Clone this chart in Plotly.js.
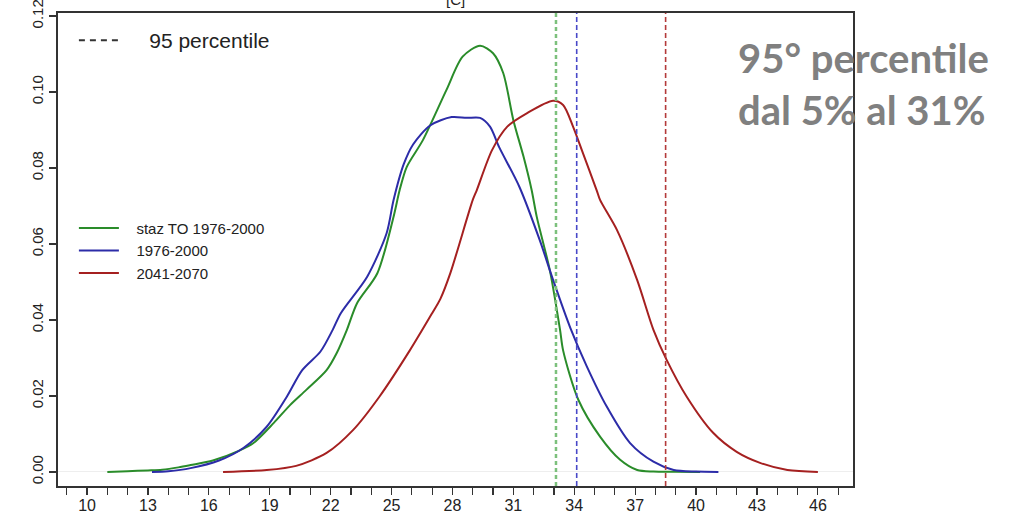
<!DOCTYPE html>
<html>
<head>
<meta charset="utf-8">
<script src="https://cdn.plot.ly/plotly-3.0.1.min.js"></script>
<style>html,body{margin:0;padding:0;background:#fff;}#chart{width:1011px;height:515px;}</style>
</head>
<body>
<div id="chart"></div>
<script>
// ---- data ----
const seriesNames = ["staz TO 1976-2000", "1976-2000", "2041-2070"];
const greenX = [11.0, 12.0, 13.0, 13.7, 14.5, 15.1, 16.2, 17.5, 18.2, 19.2, 20.0, 20.8, 21.8, 22.3, 22.8, 23.3, 24.3, 25.1, 25.4, 25.75, 26.55, 27.7, 28.5, 29.36, 30.0, 30.5, 31.0, 31.5, 31.9, 32.15, 32.8, 33.3, 33.45, 34.2, 35.27, 36.26, 37.1, 37.9, 39.0, 40.2];
const greenY = [0, 0.0002, 0.0004, 0.0006, 0.0012, 0.0018, 0.003, 0.0056, 0.0076, 0.0129, 0.0176, 0.0216, 0.0268, 0.0313, 0.0374, 0.0444, 0.0523, 0.0672, 0.0742, 0.0803, 0.0874, 0.1005, 0.1093, 0.1122, 0.1102, 0.105, 0.0926, 0.083, 0.0742, 0.0672, 0.053, 0.0374, 0.032, 0.019, 0.0093, 0.0032, 0.0005, 0.0001, 0.00005, 0];
const blueX = [13.2, 14.0, 15.1, 16.5, 17.7, 18.85, 19.84, 20.6, 21.5, 22.1, 22.5, 23.8, 24.76, 25.1, 25.6, 26.06, 26.9, 27.96, 28.7, 29.36, 29.85, 30.3, 31.3, 32.3, 32.96, 33.8, 34.6, 35.6, 36.75, 37.9, 38.9, 40.0, 41.1];
const blueY = [0, 0.0002, 0.001, 0.003, 0.0063, 0.0119, 0.0198, 0.0268, 0.0317, 0.0374, 0.0418, 0.0514, 0.0629, 0.0716, 0.081, 0.0862, 0.0912, 0.0934, 0.0932, 0.0932, 0.0909, 0.0855, 0.075, 0.061, 0.0505, 0.038, 0.028, 0.0172, 0.0076, 0.0027, 0.0005, 0.0001, 0];
const redX = [16.7, 18.85, 20.3, 21.8, 23.1, 24.4, 25.9, 27.0, 27.4, 27.9, 29.0, 29.2, 29.95, 30.7, 31.66, 32.96, 33.45, 33.94, 34.4, 35.1, 35.27, 36.1, 37.1, 37.9, 38.55, 39.54, 40.84, 42.0, 43.15, 44.5, 46.0];
const redY = [0, 0.0005, 0.0016, 0.005, 0.011, 0.0198, 0.032, 0.0418, 0.0455, 0.0524, 0.0716, 0.0742, 0.0847, 0.0909, 0.0944, 0.0977, 0.0966, 0.0909, 0.0843, 0.0742, 0.0716, 0.0637, 0.0505, 0.0374, 0.0295, 0.0198, 0.0103, 0.0053, 0.0024, 0.0005, 0];
const p95 = [33.1, 34.12, 38.5];
const xTickVals = [10, 13, 16, 19, 22, 25, 28, 31, 34, 37, 40, 43, 46];
const yTickVals = [0, 0.02, 0.04, 0.06, 0.08, 0.10, 0.12];
const yTickText = ["0.00", "0.02", "0.04", "0.06", "0.08", "0.10", "0.12"];
const noteLines = ["95° percentile", "dal 5% al 31%"];
const panelTitle = "[C]";
const pctLabel = "95 percentile";

// ---- styles ----
const lineColors = ["#2a8c2a", "#2c2ca8", "#a52020"];
const dashColors = ["#7cc07c", "#4848c8", "#b43a3a"];
const font = "Liberation Sans, Arial, Helvetica, sans-serif";

const curves = [[greenX, greenY], [blueX, blueY], [redX, redY]];
const traces = curves.map((c, i) => ({
  type: "scatter", mode: "lines", x: c[0], y: c[1], name: "   " + seriesNames[i],
  line: {color: lineColors[i], width: 2, shape: "spline", smoothing: 0.8},
  legend: "legend2", hoverinfo: "skip"
}));
traces.push({
  type: "scatter", mode: "lines", x: [null], y: [null], name: "    " + pctLabel,
  line: {color: "#333", width: 2, dash: "6px,5px"}, legend: "legend", showlegend: true
});

const shapes = p95.map((v, i) => ({
  type: "line", xref: "x", yref: "paper", x0: v, x1: v, y0: 0, y1: 1,
  line: {color: dashColors[i], width: i === 0 ? 2.5 : 1.6, dash: i === 0 ? "4px,3px" : "5px,3px"},
  layer: "above"
}));

const noteFont = {family: "Lato, Open Sans, sans-serif", size: 40, color: "#808080"};
const annotations = [
  {xref: "paper", yref: "paper", x: 0.5, y: 1, xanchor: "center", yanchor: "bottom", yshift: 3,
   text: panelTitle, showarrow: false, font: {family: font, size: 15, color: "#222"}},
  {xref: "paper", yref: "paper", x: 1, xshift: -117, y: 1, yshift: -45, xanchor: "left", yanchor: "middle",
   text: "<b>" + noteLines[0] + "</b>", showarrow: false, font: noteFont},
  {xref: "paper", yref: "paper", x: 1, xshift: -117, y: 1, yshift: -97, xanchor: "left", yanchor: "middle",
   text: "<b>" + noteLines[1] + "</b>", showarrow: false, font: noteFont}
];

const layout = {
  width: 1011, height: 515,
  margin: {l: 58, r: 158, t: 13, b: 29},
  paper_bgcolor: "#fff", plot_bgcolor: "#fff",
  showlegend: true,
  xaxis: {
    range: [8.57, 47.73], tickmode: "array", tickvals: xTickVals,
    ticks: "outside", ticklen: 7, tickwidth: 1.2, tickcolor: "#333",
    minor: {dtick: 1, tick0: 10, ticks: "outside", ticklen: 7, tickwidth: 1.2, tickcolor: "#333", showgrid: false},
    showgrid: false, zeroline: false, showline: true, mirror: true, linecolor: "#333", linewidth: 1.6,
    tickfont: {family: font, size: 16, color: "#222"}, ticklabelstandoff: -3, ticklabeloverflow: "allow"
  },
  yaxis: {
    range: [-0.0037, 0.1208], tickmode: "array", tickvals: yTickVals, ticktext: yTickText, tickangle: -90,
    ticks: "outside", ticklen: 7, tickwidth: 1.2, tickcolor: "#333",
    showgrid: false, zeroline: true, zerolinecolor: "#eeeeee", zerolinewidth: 1,
    showline: true, mirror: true, linecolor: "#333", linewidth: 1.6, ticklabeloverflow: "allow",
    tickfont: {family: font, size: 15, color: "#222"}
  },
  legend: {x: 0.02, xanchor: "left", y: 0.985, yanchor: "top", bgcolor: "rgba(0,0,0,0)",
    font: {family: font, size: 21, color: "#222"}, itemwidth: 42},
  legend2: {x: 0.02, xanchor: "left", y: 0.58, yanchor: "top", bgcolor: "rgba(0,0,0,0)",
    font: {family: font, size: 15, color: "#222"}, itemwidth: 40, tracegroupgap: 0},
  shapes: shapes,
  annotations: annotations
};

Plotly.newPlot("chart", traces, layout, {displayModeBar: false, staticPlot: true});
</script>
</body>
</html>
